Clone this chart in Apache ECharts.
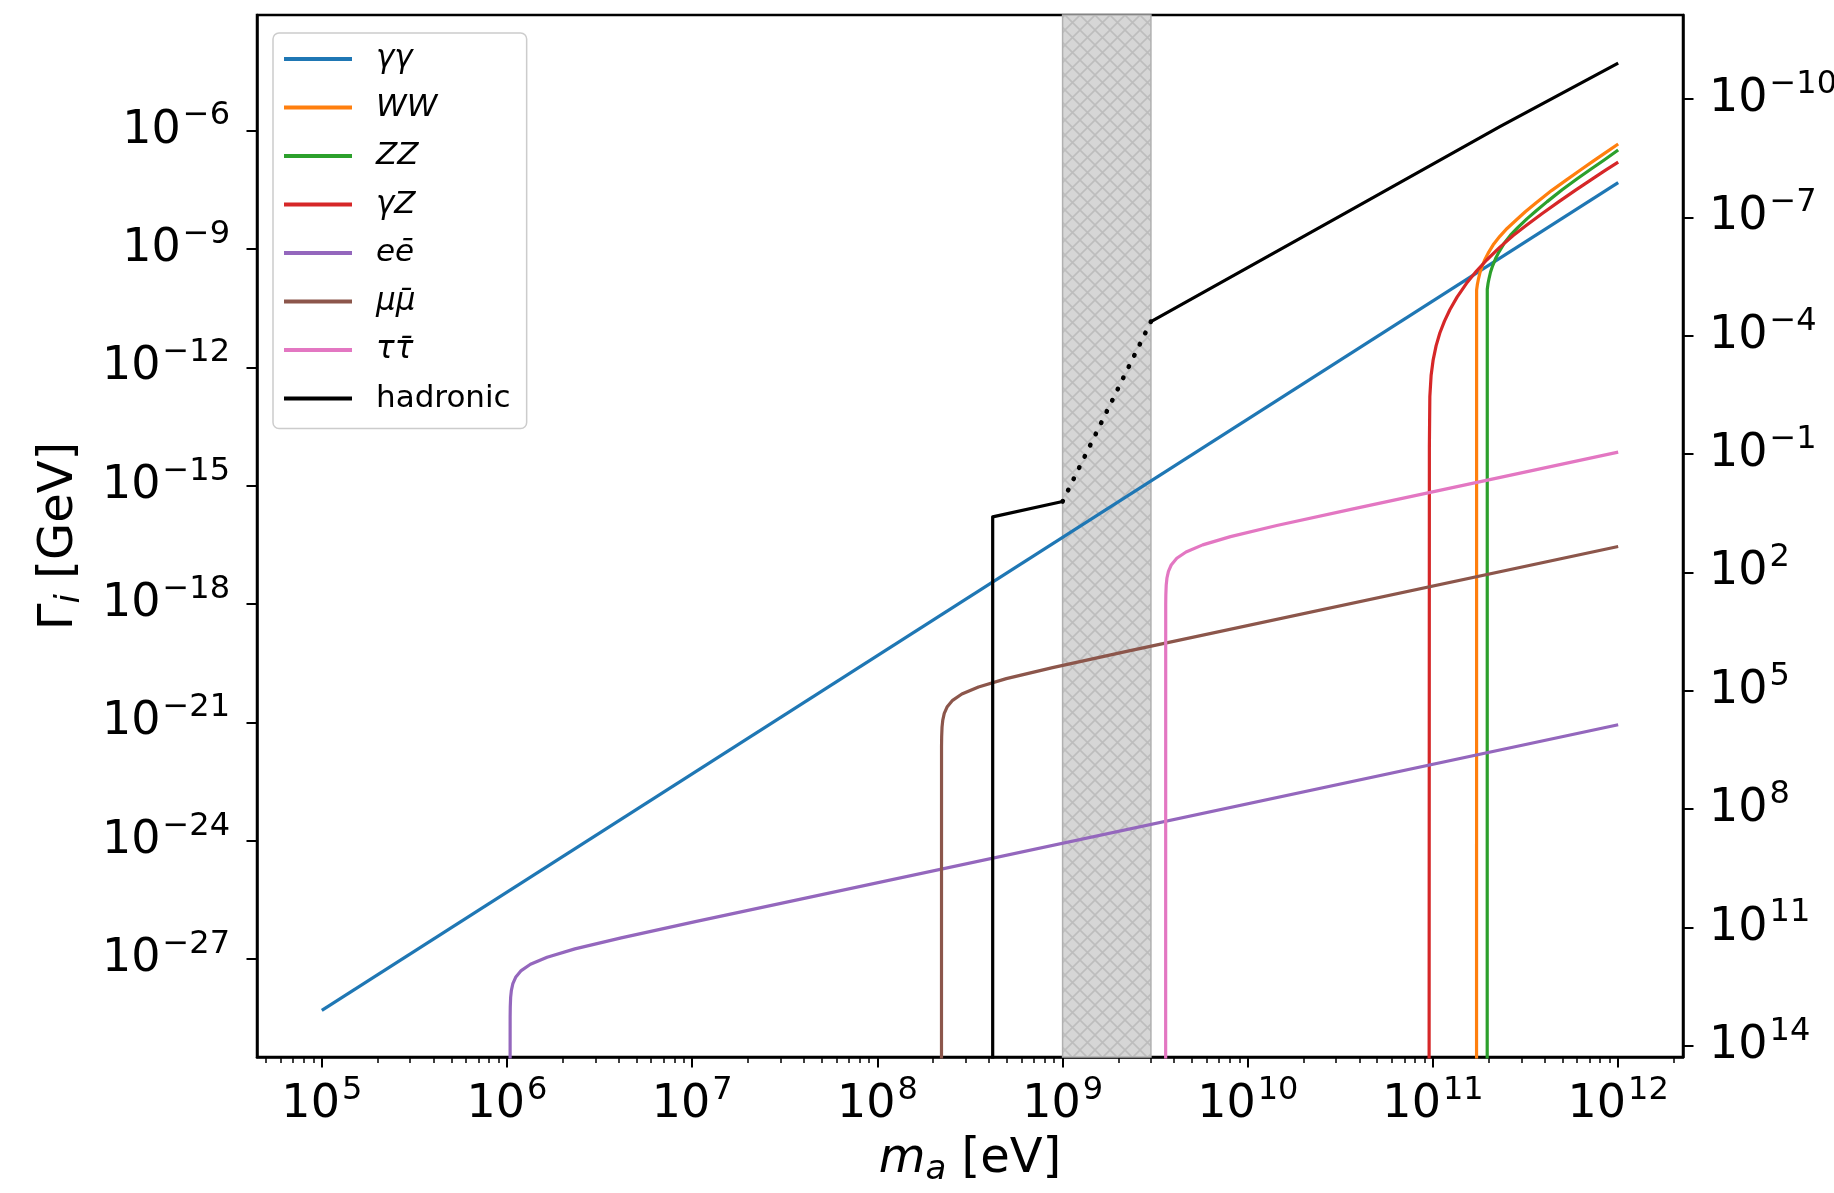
<!DOCTYPE html>
<html><head><meta charset="utf-8">
<script src="https://cdn.jsdelivr.net/npm/echarts@6/dist/echarts.min.js"></script>
<style>html,body{margin:0;padding:0;background:#fff}#c{width:1834px;height:1193px}</style>
</head><body><div id="c"></div>
<script>
// All values are log10: [log10(m_a / eV), log10(Gamma_i / GeV)].
// -31 marks points below the visible range (vertical threshold drop, clipped).
const gammaGamma = [[5, -28.30], [12, -7.32]];
const WW = [[11.2352, -31], [11.2356, -10.04], [11.240, -9.89], [11.246, -9.75], [11.253, -9.61], [11.265, -9.445],
  [11.28, -9.27], [11.298, -9.105], [11.325, -8.895], [11.361, -8.68], [11.40, -8.48], [11.451, -8.26], [11.50, -8.05],
  [11.559, -7.82], [11.64, -7.52], [11.721, -7.25], [11.80, -6.985], [11.865, -6.775], [11.93, -6.565], [12, -6.34]];
const ZZ = [[11.2927, -31], [11.2931, -10.02], [11.2975, -9.87], [11.3035, -9.73], [11.3105, -9.59], [11.3225, -9.42],
  [11.3375, -9.25], [11.3555, -9.08], [11.3825, -8.87], [11.4185, -8.65], [11.4575, -8.46], [11.5085, -8.23],
  [11.5575, -8.03], [11.6165, -7.80], [11.6975, -7.50], [11.7785, -7.22], [11.8575, -6.96], [11.9225, -6.75], [12, -6.49]];
const gammaZ = [[10.979, -31], [10.9805, -14.0], [10.983, -12.74], [10.990, -12.2], [11.001, -11.81], [11.017, -11.45],
  [11.037, -11.13], [11.062, -10.83], [11.091, -10.54], [11.13, -10.22], [11.181, -9.87], [11.235, -9.56], [11.29, -9.28],
  [11.36, -8.96], [11.433, -8.66], [11.51, -8.38], [11.59, -8.10], [11.68, -7.80], [11.77, -7.51], [11.865, -7.21],
  [11.93, -7.01], [12, -6.80]];
const ee = [[6.0166, -31], [6.0169, -28.47], [6.0176, -28.21], [6.0196, -27.97], [6.0236, -27.79], [6.0316, -27.62],
  [6.0466, -27.46], [6.0766, -27.29], [6.1266, -27.13], [6.2166, -26.95], [6.3666, -26.74], [6.6166, -26.46],
  [7.0166, -26.05], [12, -21.06]];
const mumu = [[8.346, -31], [8.3463, -21.62], [8.347, -21.36], [8.349, -21.12], [8.353, -20.94], [8.361, -20.77],
  [8.376, -20.61], [8.406, -20.44], [8.456, -20.28], [8.546, -20.10], [8.696, -19.89], [8.946, -19.61],
  [9.346, -19.20], [12, -16.54]];
const tautau = [[9.5565, -31], [9.5568, -18.02], [9.5575, -17.76], [9.5595, -17.52], [9.5635, -17.34], [9.5715, -17.17],
  [9.5865, -17.01], [9.6165, -16.84], [9.6665, -16.68], [9.7565, -16.50], [9.9065, -16.29], [10.1565, -16.01],
  [10.5565, -15.60], [12, -14.15]];
const hadronicLow = [[8.6225, -31], [8.6225, -15.79], [9.0, -15.40]];
const hadronicGap = [[9.0, -15.40], [9.477, -10.84]];
const hadronicHigh = [[9.477, -10.84], [10.5, -8.16], [11.361, -5.90], [12, -4.29]];
const band = [9.0, 9.477];

const xTicks = [5, 6, 7, 8, 9, 10, 11, 12];
const yTicks = [-27, -24, -21, -18, -15, -12, -9, -6];
const rightTicks = [-10, -7, -4, -1, 2, 5, 8, 11, 14];
const names = ['γγ', 'WW', 'ZZ', 'γZ', 'eē', 'μμ̄', 'ττ̄', 'hadronic'];
const colors = ['#1f77b4', '#ff7f0e', '#2ca02c', '#d62728', '#9467bd', '#8c564b', '#e377c2', '#000000'];

const X_MIN = 4.65, X_MAX = 12.35, Y_MIN = -29.48, Y_MAX = -3.07;
const RIGHT_OFFSET = -15.2; // log10(right) = RIGHT_OFFSET - log10(Gamma)

const minorTicks = [];
for (let n = 4; n <= 12; n++) for (let k = 2; k <= 9; k++) {
  const v = n + Math.log10(k);
  if (v > X_MIN && v < X_MAX) minorTicks.push(v);
}

const FONT = 'DejaVu Sans';
const pow = v => '{b|10}{s|' + String(v).replace('-', '\u2212') + '}';
const tickRich = {
  b: { fontFamily: FONT, fontSize: 46, color: '#000', lineHeight: 68 },
  s: { fontFamily: FONT, fontSize: 32, color: '#000', lineHeight: 38, padding: [0, 0, 29, 2] }
};

// hatch pattern for the shaded band
const pat = document.createElement('canvas');
pat.width = 15; pat.height = 15;
const pc = pat.getContext('2d');
pc.fillStyle = '#d6d6d6'; pc.fillRect(0, 0, 15, 15);
pc.strokeStyle = '#bdbdbd'; pc.lineWidth = 1.6;
pc.beginPath(); pc.moveTo(-1, -1); pc.lineTo(16, 16); pc.moveTo(16, -1); pc.lineTo(-1, 16); pc.stroke();

const lw = 3.2;
function lineSeries(name, data, color, extra) {
  return Object.assign({
    name, type: 'line', data, showSymbol: false, symbol: 'none', clip: true,
    lineStyle: { color, width: lw, cap: 'butt', join: 'round' }, itemStyle: { color },
    emphasis: { disabled: true }, animation: false, z: 3
  }, extra || {});
}

const series = [
  {
    type: 'line', data: [], silent: true, z: 1,
    markArea: {
      silent: true,
      itemStyle: { color: { image: pat, repeat: 'repeat' }, borderColor: '#b0b0b0', borderWidth: 1.5 },
      data: [[{ xAxis: band[0] }, { xAxis: band[1] }]]
    }
  },
  lineSeries(names[0], gammaGamma, colors[0]),
  lineSeries(names[1], WW, colors[1]),
  lineSeries(names[2], ZZ, colors[2]),
  lineSeries(names[3], gammaZ, colors[3]),
  lineSeries(names[4], ee, colors[4]),
  lineSeries(names[5], mumu, colors[5]),
  lineSeries(names[6], tautau, colors[6]),
  lineSeries(names[7], hadronicLow, colors[7]),
  lineSeries('hadronic-gap', hadronicGap, colors[7], { lineStyle: { color: '#000', width: 4.6, type: [0.5, 12], cap: 'round' } }),
  lineSeries(names[7], hadronicHigh, colors[7])
];

const chart = echarts.init(document.getElementById('c'), null, { renderer: 'canvas' });
chart.setOption({
  animation: false,
  backgroundColor: '#fff',
  grid: {
    left: 257, top: 15, width: 1426, height: 1042, containLabel: false, outerBoundsMode: 'none',
    show: true, borderColor: '#000', borderWidth: 2.5, backgroundColor: 'transparent'
  },
  xAxis: [
    {
      type: 'value', min: X_MIN, max: X_MAX, position: 'bottom',
      axisLine: { show: true, onZero: false, lineStyle: { color: '#000', width: 2.5 } },
      axisTick: { show: true, customValues: xTicks, length: 10.5, lineStyle: { color: '#000', width: 2 } },
      axisLabel: { customValues: xTicks, formatter: pow, rich: tickRich, margin: 14 },
      splitLine: { show: false }
    },
    {
      type: 'value', min: X_MIN, max: X_MAX, position: 'bottom',
      axisLine: { show: false, onZero: false },
      axisTick: { show: true, customValues: minorTicks, length: 6, lineStyle: { color: '#000', width: 1.5 } },
      axisLabel: { show: false }, splitLine: { show: false }
    }
  ],
  yAxis: [
    {
      type: 'value', min: Y_MIN, max: Y_MAX, position: 'left',
      axisLine: { show: true, onZero: false, lineStyle: { color: '#000', width: 2.5 } },
      axisTick: { show: true, customValues: yTicks, length: 10.5, lineStyle: { color: '#000', width: 2 } },
      axisLabel: { customValues: yTicks, formatter: pow, rich: tickRich, margin: 27 },
      splitLine: { show: false }
    },
    {
      type: 'value', min: RIGHT_OFFSET - Y_MAX, max: RIGHT_OFFSET - Y_MIN, inverse: true, position: 'right',
      axisLine: { show: true, onZero: false, lineStyle: { color: '#000', width: 2.5 } },
      axisTick: { show: true, customValues: rightTicks, length: 10.5, lineStyle: { color: '#000', width: 2 } },
      axisLabel: { customValues: rightTicks, formatter: pow, rich: tickRich, margin: 26 },
      splitLine: { show: false }
    }
  ],
  legend: {
    data: names, orient: 'vertical', left: 273, top: 33,
    padding: [8, 16, 12, 11], itemGap: 12.5, itemWidth: 68, itemHeight: 3.8, icon: 'rect',
    selectedMode: false,
    backgroundColor: 'rgba(255,255,255,0.8)', borderColor: '#cccccc', borderWidth: 1.5, borderRadius: 6,
    formatter: n => n === 'hadronic' ? '{r|' + n + '}' : '{i|' + n + '}',
    textStyle: {
      fontFamily: FONT, fontSize: 31, color: '#000', lineHeight: 36,
      rich: {
        i: { fontFamily: FONT, fontSize: 31, fontStyle: 'italic', color: '#000', lineHeight: 36, padding: [0, 0, 0, 19] },
        r: { fontFamily: FONT, fontSize: 31, color: '#000', lineHeight: 36, padding: [0, 0, 0, 19] }
      }
    }
  },
  graphic: [
    {
      type: 'text', x: 970, y: 1160, z: 10,
      style: {
        text: '{m|m}{a|a}{n| [eV]}', align: 'center', verticalAlign: 'middle',
        rich: {
          m: { fontFamily: FONT, fontSize: 48, fontStyle: 'italic', color: '#000', lineHeight: 64 },
          a: { fontFamily: FONT, fontSize: 34, fontStyle: 'italic', color: '#000', lineHeight: 40, padding: [20, 0, 0, 0] },
          n: { fontFamily: FONT, fontSize: 48, color: '#000', lineHeight: 64 }
        }
      }
    },
    {
      type: 'text', x: 60, y: 536, rotation: Math.PI / 2, z: 10,
      style: {
        text: '{g|Γ}{i|i}{n| [GeV]}', align: 'center', verticalAlign: 'middle',
        rich: {
          g: { fontFamily: FONT, fontSize: 48, color: '#000', lineHeight: 64 },
          i: { fontFamily: FONT, fontSize: 34, fontStyle: 'italic', color: '#000', lineHeight: 40, padding: [20, 0, 0, 0] },
          n: { fontFamily: FONT, fontSize: 48, color: '#000', lineHeight: 64 }
        }
      }
    }
  ],
  series
});
</script>
</body></html>
